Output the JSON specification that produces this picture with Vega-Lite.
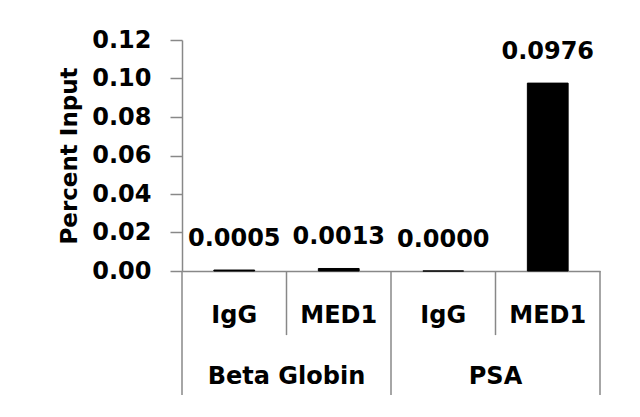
{
  "$schema": "https://vega.github.io/schema/vega-lite/v6.json",
  "width": 418,
  "height": 231,
  "autosize": {"type": "none"},
  "padding": {"left": 182, "top": 40, "right": 40, "bottom": 146},
  "background": "white",
  "config": {"view": {"stroke": null}, "font": "DejaVu Sans",
    "axisY": {"grid": false, "labelOverlap": false, "format": ".2f", "domainColor": "#888888", "domainWidth": 1.5, "tickColor": "#888888", "tickWidth": 1.5, "tickSize": 12,
      "labelFontSize": 24, "labelFontWeight": "bold", "labelColor": "black", "labelPadding": 19,
      "titleFontSize": 23, "titleFontWeight": "bold", "titleColor": "black", "titlePadding": 10}},
  "data": {"values": [
    {"group": "Beta Globin", "ab": "IgG", "key": "Beta Globin|IgG", "value": 0.0005},
    {"group": "Beta Globin", "ab": "MED1", "key": "Beta Globin|MED1", "value": 0.0013},
    {"group": "PSA", "ab": "IgG", "key": "PSA|IgG", "value": 0.0000},
    {"group": "PSA", "ab": "MED1", "key": "PSA|MED1", "value": 0.0976}
  ]},
  "encoding": {
    "x": {"field": "key", "type": "nominal", "sort": null,
      "scale": {"paddingInner": 0, "paddingOuter": 0},
      "axis": {"labels": false, "ticks": false, "title": null, "domainColor": "#888888", "domainWidth": 1.5}}
  },
  "layer": [
    {
      "mark": {"type": "bar", "color": "black", "stroke": "black", "strokeWidth": 1, "width": {"band": 0.39}},
      "encoding": {
        "y": {"field": "value", "type": "quantitative",
          "scale": {"domain": [0, 0.12], "nice": false},
          "axis": {"values": [0, 0.02, 0.04, 0.06, 0.08, 0.1, 0.12], "title": "Percent Input"}}
      }
    },
    {
      "mark": {"type": "text", "fontSize": 24, "fontWeight": "bold", "color": "black", "baseline": "middle", "dy": -31},
      "encoding": {
        "y": {"field": "value", "type": "quantitative", "axis": {"values": [0, 0.02, 0.04, 0.06, 0.08, 0.1, 0.12], "title": "Percent Input"}},
        "text": {"field": "value", "type": "quantitative", "format": ".4f"}
      }
    },
    {
      "mark": {"type": "text", "fontSize": 24, "fontWeight": "bold", "color": "black", "baseline": "middle"},
      "encoding": {
        "y": {"datum": -0.0234, "type": "quantitative", "axis": {"values": [0, 0.02, 0.04, 0.06, 0.08, 0.1, 0.12], "title": "Percent Input"}},
        "text": {"field": "ab"}
      }
    },
    {
      "transform": [{"filter": "datum.ab == 'MED1'"}],
      "mark": {"type": "text", "fontSize": 24, "fontWeight": "bold", "color": "black", "baseline": "middle"},
      "encoding": {
        "x": {"field": "key", "type": "nominal", "sort": null, "bandPosition": 0},
        "y": {"datum": -0.0551, "type": "quantitative", "axis": {"values": [0, 0.02, 0.04, 0.06, 0.08, 0.1, 0.12], "title": "Percent Input"}},
        "text": {"field": "group"}
      }
    },
    {
      "transform": [{"filter": "datum.ab == 'MED1'"}],
      "mark": {"type": "rule", "color": "#888888", "strokeWidth": 1.5},
      "encoding": {
        "x": {"field": "key", "type": "nominal", "sort": null, "bandPosition": 0},
        "y": {"datum": 0, "type": "quantitative", "axis": {"values": [0, 0.02, 0.04, 0.06, 0.08, 0.1, 0.12], "title": "Percent Input"}},
        "y2": {"datum": -0.0333}
      }
    },
    {
      "transform": [{"filter": "datum.ab == 'IgG'"}],
      "mark": {"type": "rule", "color": "#888888", "strokeWidth": 1.5},
      "encoding": {
        "x": {"field": "key", "type": "nominal", "sort": null, "bandPosition": 0},
        "y": {"datum": 0, "type": "quantitative", "axis": {"values": [0, 0.02, 0.04, 0.06, 0.08, 0.1, 0.12], "title": "Percent Input"}},
        "y2": {"datum": -0.0644}
      }
    },
    {
      "transform": [{"filter": "datum.key == 'PSA|MED1'"}],
      "mark": {"type": "rule", "color": "#888888", "strokeWidth": 1.5},
      "encoding": {
        "x": {"field": "key", "type": "nominal", "sort": null, "bandPosition": 1},
        "y": {"datum": 0, "type": "quantitative", "axis": {"values": [0, 0.02, 0.04, 0.06, 0.08, 0.1, 0.12], "title": "Percent Input"}},
        "y2": {"datum": -0.0644}
      }
    }
  ]
}
